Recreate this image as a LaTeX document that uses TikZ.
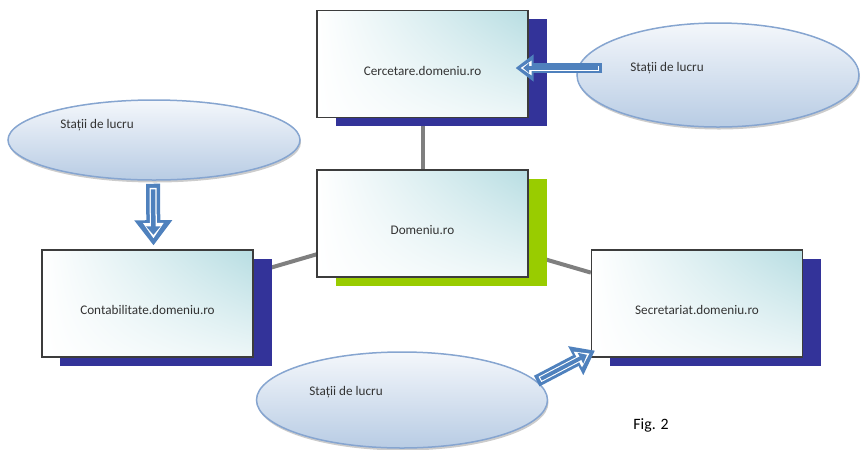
\documentclass[tikz,border=0pt]{standalone}
\usepackage{fontspec}
\setmainfont{Carlito}
\usetikzlibrary{shapes.geometric,shadows,shadings,arrows.meta,calc,backgrounds}
\definecolor{boxteal}{HTML}{B7DDE2}
\definecolor{boxline}{HTML}{3C3C3C}
\definecolor{shadowblue}{HTML}{333399}
\definecolor{shadowgreen}{HTML}{99CC00}
\definecolor{linkgray}{HTML}{7F7F7F}
\definecolor{elltop}{HTML}{F4F7FB}
\definecolor{ellbot}{HTML}{B8CCE4}
\definecolor{ellline}{HTML}{86A5D0}
\definecolor{flowblue}{HTML}{4F81BD}
\tikzset{
  hostbox/.style={rectangle, draw=boxline, line width=0.25mm,
    minimum width=42.2mm, minimum height=21.4mm, text height=4.4mm, text depth=0pt,
    shade, upper left=white, lower left=white, upper right=boxteal, lower right=boxteal!25,
    general shadow={fill=#1, shadow xshift=3.7mm, shadow yshift=-1.7mm},
    font=\fontsize{7.5}{9}\selectfont, text=black!80},
  station/.style 2 args={ellipse, draw=ellline, line width=0.3mm, inner sep=0pt,
    minimum width=#1mm, minimum height=#2mm, top color=elltop, bottom color=ellbot,
    drop shadow={shadow xshift=0.2mm, shadow yshift=-0.5mm, fill=black, opacity=0.2}},
  stext/.style={font=\fontsize{7.5}{9}\selectfont, text=black!80},
  link/.style={draw=linkgray, line width=0.8mm},
  flow/.style={draw=flowblue, line width=#1 mm, -{Triangle[length=0pt 1.8, width=0pt 2.6]},
    postaction={draw=white, line width=0.5*#1 mm, shorten <=0.3*#1 mm, shorten >=0.5*#1 mm,
      -{Triangle[length=0pt 2.2, width=0pt 2.8]}},
    postaction={draw=flowblue, line width=0.32*#1 mm, shorten <=0.4*#1 mm, shorten >=0.75*#1 mm,
      -{Triangle[length=0pt 1.9, width=0pt 3.1]}}}
}
\begin{document}
\begin{tikzpicture}[x=0.2mm, y=-0.2mm]
\useasboundingbox (0,0) rectangle (861,449);
% workstations
\node[station={56.4}{20.8}] (st1) at (718,75) {};
\node[station={58.4}{16}] (st2) at (154,140) {};
\node[station={58.2}{19.2}] (st3) at (402,400) {};
\node[stext] (t1) at (667,68) {Stații de lucru};
\node[stext] (t2) at (97,125) {Stații de lucru};
\node[stext] (t3) at (346,392) {Stații de lucru};
% domains
\node[hostbox=shadowblue] (cerc) at (422.5,64) {Cercetare.domeniu.ro};
\node[hostbox=shadowgreen] (dom) at (422.5,223.5) {Domeniu.ro};
\node[hostbox=shadowblue] (cont) at (147.5,303.5) {Contabilitate.domeniu.ro};
\node[hostbox=shadowblue] (secr) at (697,303.5) {Secretariat.domeniu.ro};
\begin{scope}[on background layer]
\draw[link] (dom) -- (cerc);
\draw[link] (dom) -- (cont);
\draw[link] (dom) -- (secr);
\end{scope}
% arrows
\draw[flow=2] ($(st1.west)+(26,-7)$) -- ($(cerc.east)+(-13,4)$);
\draw[flow=2.8] ($(st2.south)+(-1,3)$) -- ($(cont.north)+(6,-4)$);
\draw[flow=2.4] (st3.8) -- ($(secr.south west)+(4,-7)$);
\node[font=\fontsize{9}{11}\selectfont, text=black] (fig) at (651,425) {Fig. 2};
\end{tikzpicture}
\end{document}
